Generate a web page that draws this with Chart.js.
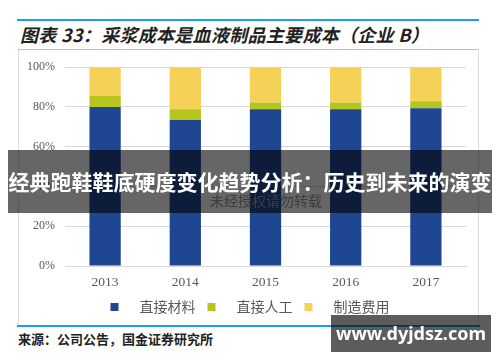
<!DOCTYPE html>
<html>
<head>
<meta charset="utf-8">
<script src="https://cdn.jsdelivr.net/npm/chart.js@4"></script>
<style>
  body { margin: 0; width: 500px; height: 362px; background: #fff; position: relative; overflow: hidden; font-family: "Noto Sans CJK SC", sans-serif; }
  .abs { position: absolute; }
  #topLine { left: 17px; top: 19px; width: 462px; height: 2px; background: #1aa0e6; }
  #titulo { left: 20px; top: 20px; height: 28px; line-height: 28px; font-size: 18px; font-style: italic; font-weight: bold; color: #222; white-space: nowrap; letter-spacing: 0.3px; }
  #caja { left: 18px; top: 49px; width: 459px; height: 276px; border: 1px solid #dcdcdc; border-top: 1px solid #8fcdf0; }
  #grafico { left: 18px; top: 50px; width: 460px; height: 275px; }
  #bottomLine { left: 17px; top: 325px; width: 463px; height: 2px; background: #1aa0e6; }
  #fuente { left: 18px; top: 330px; font-size: 13px; line-height: 18px; color: #222; font-weight: bold; white-space: nowrap; }
  #marcaChart { left: 210px; top: 191px; font-size: 14px; line-height: 18px; color: #999; white-space: nowrap; }
  #banner { left: 8px; top: 150px; width: 484px; height: 63px; background: rgba(0,0,0,0.6); color: #fff; font-size: 21px; font-weight: bold; text-align: center; line-height: 63px; white-space: nowrap; }
  #web { left: 331px; top: 315px; width: 160px; height: 37px; background: rgba(0,0,0,0.64); color: #fff; font-family: "Noto Sans", sans-serif; font-size: 18px; font-weight: bold; text-align: center; line-height: 37px; }
</style>
</head>
<body>
<div id="topLine" class="abs"></div>
<div id="titulo" class="abs">图表 33：采浆成本是血液制品主要成本（企业 B）</div>
<div id="caja" class="abs"></div>
<div id="grafico" class="abs"><canvas id="myChart"></canvas></div>
<div id="marcaChart" class="abs">未经授权请勿转载</div>
<div id="bottomLine" class="abs"></div>
<div id="fuente" class="abs">来源：公司公告，国金证券研究所</div>
<div id="banner" class="abs">经典跑鞋鞋底硬度变化趋势分析：历史到未来的演变</div>
<div id="web" class="abs">www.dyjdsz.com</div>

<script>
// datos (porcentaje del costo)
const anios = ["2013", "2014", "2015", "2016", "2017"];
const materiales = [80.0, 73.5, 78.8, 78.8, 79.3];
const manoObra = [5.5, 5.3, 3.4, 3.4, 3.6];
const fabricacion = [14.5, 21.2, 17.8, 17.8, 17.1];
const ticksY = [0, 20, 40, 60, 80, 100];

const etiquetas = ["直接材料", "直接人工", "制造费用"];

// leyenda con alto fijo y corrida un poco a la derecha
const fijaLeyenda = {
  id: "fijaLeyenda",
  beforeInit: function (chart) {
    const fitOriginal = chart.legend.fit;
    chart.legend.fit = function () {
      fitOriginal.call(this);
      this.height = 37;
    };
  },
  afterLayout: function (chart) {
    chart.legend.left += 6;
    chart.legend.right += 6;
  },
};

const ctx = document.getElementById("myChart").getContext("2d");

const data = {
  labels: anios,
  datasets: [
    { label: etiquetas[0], data: materiales, backgroundColor: "#1f4691" },
    { label: etiquetas[1], data: manoObra, backgroundColor: "#b6c41e" },
    { label: etiquetas[2], data: fabricacion, backgroundColor: "#f4d157" },
  ],
};

const config = {
  type: "bar",
  data: data,
  options: {
    responsive: true,
    maintainAspectRatio: false,
    animation: false,
    layout: { padding: { top: 15, right: 12, left: 4, bottom: 0 } },
    datasets: { bar: { categoryPercentage: 1, barPercentage: 0.39 } },
    scales: {
      x: {
        stacked: true,
        grid: { display: false, drawTicks: false },
        border: { display: true, color: "#d9d9d9" },
        ticks: { padding: 8, color: "#595959", font: { family: "Liberation Serif", size: 13.5 } },
        afterFit: function (scale) { scale.height = 22; },
      },
      y: {
        stacked: true,
        min: 0,
        max: 100,
        afterBuildTicks: function (scale) {
          scale.ticks = ticksY.map(function (v) { return { value: v }; });
        },
        grid: { color: "#d9d9d9", drawTicks: false },
        border: { display: false },
        ticks: {
          padding: 10,
          color: "#595959",
          font: { family: "Liberation Serif", size: 12 },
          callback: function (v) { return v + "%"; },
        },
        afterFit: function (scale) { scale.width = 43; },
      },
    },
    plugins: {
      tooltip: { enabled: false },
      legend: {
        position: "bottom",
        labels: {
          boxWidth: 8,
          boxHeight: 8,
          padding: 12,
          color: "#595959",
          font: { family: "Noto Sans CJK SC", size: 14 },
          generateLabels: function (chart) {
            const base = Chart.defaults.plugins.legend.labels.generateLabels(chart);
            base.forEach(function (l) { l.text = "\u3000" + l.text; l.lineWidth = 0; });
            return base;
          },
        },
      },
    },
  },
  plugins: [fijaLeyenda],
};

const myChart = new Chart(ctx, config);
</script>
</body>
</html>
